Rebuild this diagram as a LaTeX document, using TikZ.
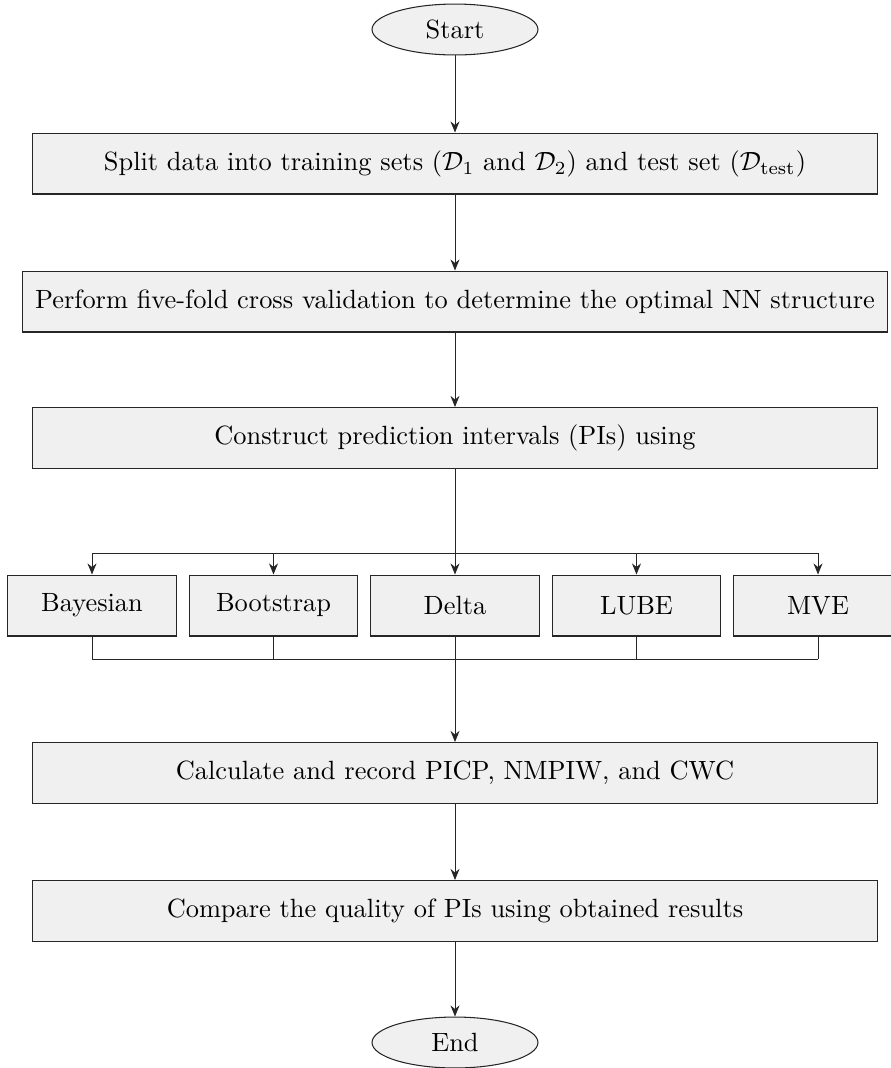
\documentclass[tikz,border=0pt]{standalone}
\usetikzlibrary{arrows.meta,shapes.geometric}
\definecolor{boxfill}{HTML}{F0F0F0}
\tikzset{
  stepbox/.style={draw=black!85, fill=boxfill, rectangle, minimum height=23.1pt, inner sep=3pt, align=center},
  widebox/.style={stepbox, minimum width=320pt},
  methbox/.style={stepbox, minimum width=63.7pt},
  term/.style={draw=black!85, fill=boxfill, ellipse, minimum width=62.9pt, minimum height=19.3pt, inner sep=1pt},
  arr/.style={-{Stealth[length=4.2pt,width=3.4pt]}, black!85, line width=0.35pt},
  conn/.style={black!85, line width=0.35pt}
}
\begin{document}
\begin{tikzpicture}[x=0.379pt,y=-0.379pt]
\useasboundingbox (0,0) rectangle (890,1068);
\node[term] (start) at (455,29.5) {Start};
\node[widebox] (b1) at (455,163.5) {Split data into training sets ($\mathcal{D}_1$ and $\mathcal{D}_2$) and test set ($\mathcal{D}_{\mathrm{test}}$)};
\node[stepbox, minimum width=327.5pt] (b2) at (455,301.5) {Perform five-fold cross validation to determine the optimal NN structure};
\node[widebox] (b3) at (455,438) {Construct prediction intervals (PIs) using};
\node[methbox] (bay) at (92,605.5) {Bayesian};
\node[methbox] (boot) at (273.5,605.5) {Bootstrap};
\node[methbox] (delta) at (455,605.5) {Delta};
\node[methbox] (lube) at (636.5,605.5) {LUBE};
\node[methbox] (mve) at (818,605.5) {MVE};
\node[widebox] (b4) at (455,773) {Calculate and record PICP, NMPIW, and CWC};
\node[widebox] (b5) at (455,911) {Compare the quality of PIs using obtained results};
\node[term] (end) at (455,1042.5) {End};
\coordinate (hl) at (455,553);
\coordinate (bl) at (455,659);
\draw[arr] (start) -- (b1);
\draw[arr] (b1) -- (b2);
\draw[arr] (b2) -- (b3);
\draw[arr] (b3) -- (delta);
\draw[conn] (bay.north |- hl) -- (mve.north |- hl);
\foreach \m in {bay,boot,lube,mve} {
  \draw[arr] (\m.north |- hl) -- (\m.north);
  \draw[conn] (\m.south) -- (\m.south |- bl);
}
\draw[conn] (bay.south |- bl) -- (mve.south |- bl);
\draw[arr] (delta) -- (b4);
\draw[arr] (b4) -- (b5);
\draw[arr] (b5) -- (end);
\end{tikzpicture}
\end{document}
